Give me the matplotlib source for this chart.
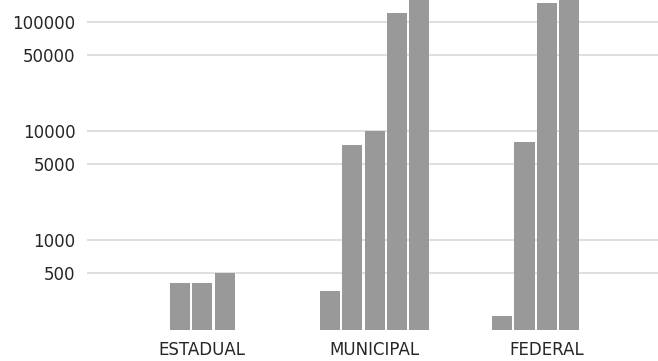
import numpy as np
import matplotlib.pyplot as plt

categorias = ["ESTADUAL", "MUNICIPAL", "FEDERAL"]
# cinco séries por categoria (nan = sem valor)
estadual = [np.nan, 400, 400, 500, np.nan]
municipal = [340, 7500, 10100, 122000, 175000]
federal = [200, 8000, 150000, 180000, np.nan]
valores = [estadual, municipal, federal]
yticks = [500, 1000, 5000, 10000, 50000, 100000]

fig = plt.figure(figsize=(6.58, 3.61), dpi=100)
ax = fig.add_axes([0.132, 0.086, 0.868, 0.914])

n_series = 5
slot = 0.13
largura = 0.117
x = np.arange(len(categorias))
for i in range(n_series):
    serie = [v[i] for v in valores]
    pos = x + (i - (n_series - 1) / 2) * slot
    ax.bar(pos, serie, width=largura, color="#999999", linewidth=0, zorder=3)

ax.set_yscale("log")
ax.set_ylim(150, 159000)
ax.set_xlim(-0.67, 2.645)
ax.set_yticks(yticks)
ax.set_yticklabels([str(t) for t in yticks])
ax.minorticks_off()
ax.yaxis.grid(True, color="#d9d9d9", linewidth=1.2, zorder=0)
ax.set_xticks(x)
ax.set_xticklabels(categorias)
ax.tick_params(axis="both", length=0, labelsize=12, colors="#262626")
ax.tick_params(axis="y", pad=8)
ax.tick_params(axis="x", pad=8)
for s in ax.spines.values():
    s.set_visible(False)

fig.savefig("out.png", dpi=100)
